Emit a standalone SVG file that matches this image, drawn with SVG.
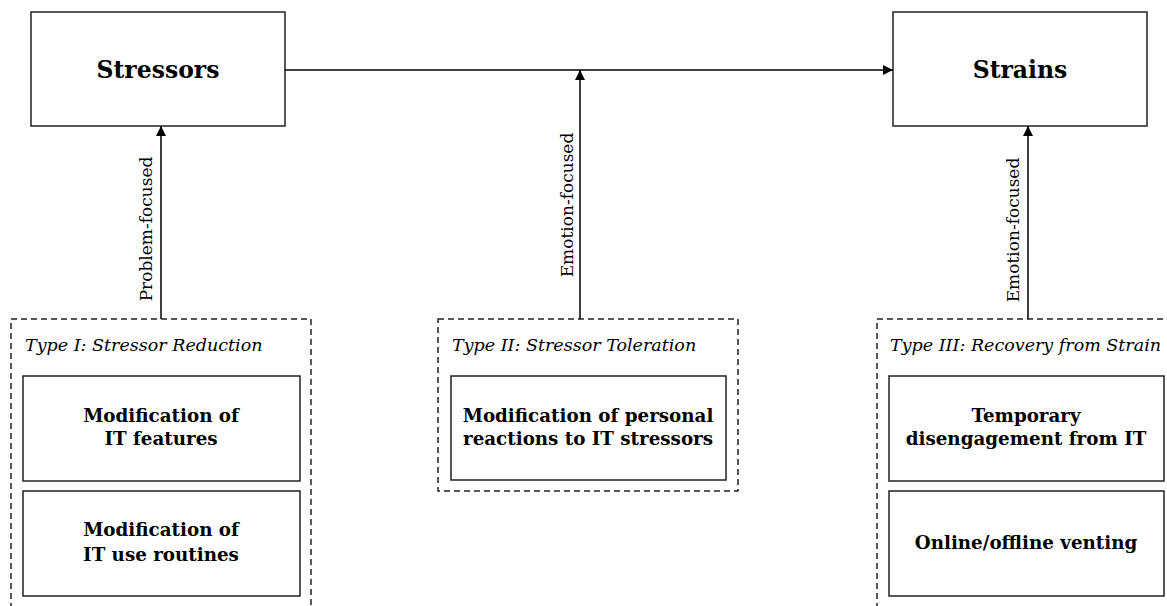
<svg xmlns="http://www.w3.org/2000/svg" width="1167" height="606" viewBox="0 0 1167 606">
<defs>
<marker id="arr" viewBox="0 0 10 10" refX="10" refY="5" markerWidth="10" markerHeight="10" markerUnits="userSpaceOnUse" orient="auto">
<path d="M0,0 L10,5 L0,10 z" fill="#000"/>
</marker>
<style>
.box{fill:#fff;stroke:#222;stroke-width:1.5}
.dash{fill:none;stroke:#222;stroke-width:1.5;stroke-dasharray:6 4}
.conn{stroke:#000;stroke-width:1.5;fill:none}
.big{font-family:"DejaVu Serif","Liberation Serif",serif;font-weight:bold;font-size:23.5px;text-anchor:middle;fill:#000}
.item{font-family:"DejaVu Serif","Liberation Serif",serif;font-weight:bold;font-size:18.3px;text-anchor:middle;fill:#000}
.type{font-family:"DejaVu Serif","Liberation Serif",serif;font-style:italic;font-size:17.5px;fill:#000}
.lab{font-family:"DejaVu Serif","Liberation Serif",serif;font-size:17px;text-anchor:middle;fill:#000}
</style>
</defs>
<rect width="1167" height="606" fill="#fff"/>
<g id="stressors">
<rect class="box" x="31" y="12" width="254" height="114"/>
<text class="big" x="158" y="78">Stressors</text>
</g>
<g id="strains">
<rect class="box" x="893" y="12" width="254" height="114"/>
<text class="big" x="1020" y="78">Strains</text>
</g>
<g id="type1">
<rect class="dash" x="11" y="319" width="300" height="300"/>
<text class="type" x="25" y="351">Type I: Stressor Reduction</text>
</g>
<g id="mod-features">
<rect class="box" x="23" y="376" width="277" height="105"/>
<text class="item" x="161" y="422">Modification of</text>
<text class="item" x="161" y="445">IT features</text>
</g>
<g id="mod-routines">
<rect class="box" x="23" y="491" width="277" height="105"/>
<text class="item" x="161" y="536">Modification of</text>
<text class="item" x="161" y="561">IT use routines</text>
</g>
<g id="type2">
<rect class="dash" x="438" y="319" width="300" height="172"/>
<text class="type" x="452" y="351">Type II: Stressor Toleration</text>
</g>
<g id="mod-reactions">
<rect class="box" x="451" y="376" width="275" height="104"/>
<text class="item" x="588" y="422">Modification of personal</text>
<text class="item" x="588" y="445">reactions to IT stressors</text>
</g>
<g id="type3">
<rect class="dash" x="877" y="319" width="300" height="300"/>
<text class="type" x="890" y="351">Type III: Recovery from Strain</text>
</g>
<g id="disengagement">
<rect class="box" x="889" y="376" width="275" height="105"/>
<text class="item" x="1026" y="422">Temporary</text>
<text class="item" x="1026" y="445">disengagement from IT</text>
</g>
<g id="venting">
<rect class="box" x="889" y="491" width="275" height="105"/>
<text class="item" x="1026" y="549">Online/offline venting</text>
</g>
<g id="connectors">
<line class="conn" x1="285" y1="70" x2="893" y2="70" marker-end="url(#arr)"/>
<line class="conn" x1="161" y1="319" x2="161" y2="126" marker-end="url(#arr)"/>
<line class="conn" x1="580" y1="319" x2="580" y2="70" marker-end="url(#arr)"/>
<line class="conn" x1="1028" y1="319" x2="1028" y2="126" marker-end="url(#arr)"/>
<text class="lab" transform="translate(152,229) rotate(-90)">Problem-focused</text>
<text class="lab" transform="translate(573,205) rotate(-90)">Emotion-focused</text>
<text class="lab" transform="translate(1019,230) rotate(-90)">Emotion-focused</text>
</g>
</svg>
